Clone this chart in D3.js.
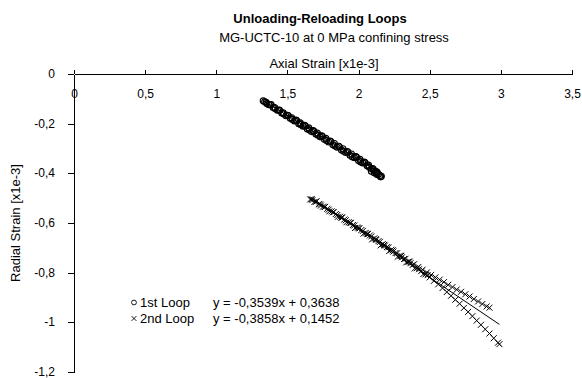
<!DOCTYPE html>
<html>
<head>
<meta charset="utf-8">
<script src="https://cdn.jsdelivr.net/npm/d3@7"></script>
<style>
  body { margin: 0; background: #fff; }
  svg text { font-family: "Liberation Sans", Arial, sans-serif; fill: #000; }
</style>
</head>
<body>
<svg id="chart" width="582" height="378"></svg>
<script>
"use strict";

// tick values
const xTicks = [0, 0.5, 1, 1.5, 2, 2.5, 3, 3.5];
const yTicks = [0, -0.2, -0.4, -0.6, -0.8, -1, -1.2];

// 1st loop (unloading, reloading, second pass)
const loop1X = [2.16, 2.13, 2.10, 2.07, 2.04, 2.01, 1.98, 1.95, 1.92, 1.89, 1.86, 1.83, 1.80, 1.77, 1.74,
  1.71, 1.68, 1.65, 1.62, 1.59, 1.56, 1.53, 1.50, 1.47, 1.44, 1.41, 1.38, 1.35, 1.33,
  1.34, 1.37, 1.40, 1.43, 1.46, 1.49, 1.52, 1.55, 1.58, 1.61, 1.64, 1.67, 1.70, 1.73, 1.76,
  1.79, 1.82, 1.85, 1.88, 1.91, 1.94, 1.97, 2.00, 2.03, 2.06, 2.09, 2.12, 2.14, 2.15,
  2.11, 2.13, 2.09,
  1.355, 1.385, 1.415, 1.445, 1.475, 1.505, 1.535, 1.565, 1.595, 1.625, 1.655, 1.685, 1.715, 1.745,
  1.775, 1.805, 1.835, 1.865, 1.895, 1.925, 1.955, 1.985, 2.015, 2.045, 2.075, 2.105, 2.125, 2.155];
const loop1Y = [-0.412, -0.395, -0.381, -0.367, -0.355, -0.344, -0.333, -0.322, -0.312, -0.301, -0.291, -0.280, -0.270, -0.259, -0.249,
  -0.238, -0.228, -0.217, -0.207, -0.197, -0.186, -0.176, -0.166, -0.156, -0.145, -0.135, -0.124, -0.114, -0.108,
  -0.112, -0.124, -0.135, -0.146, -0.157, -0.168, -0.178, -0.189, -0.200, -0.210, -0.221, -0.232, -0.242, -0.253, -0.263,
  -0.274, -0.285, -0.295, -0.306, -0.316, -0.327, -0.337, -0.348, -0.358, -0.369, -0.381, -0.392, -0.404, -0.409,
  -0.398, -0.405, -0.392,
  -0.119, -0.123, -0.140, -0.146, -0.161, -0.167, -0.183, -0.188, -0.204, -0.209, -0.226, -0.230, -0.247, -0.251,
  -0.268, -0.272, -0.290, -0.293, -0.311, -0.314, -0.333, -0.335, -0.354, -0.357, -0.376, -0.386, -0.399, -0.414];

// 2nd loop (reloading branch, unloading branch, second pass)
const loop2X = [1.66, 1.69, 1.72, 1.75, 1.78, 1.81, 1.84, 1.87, 1.90, 1.93, 1.96, 1.99, 2.02, 2.05, 2.08,
  2.11, 2.14, 2.17, 2.20, 2.23, 2.26, 2.29, 2.32, 2.35, 2.38, 2.41, 2.44, 2.47, 2.50, 2.53,
  2.56, 2.59, 2.62, 2.65, 2.68, 2.71, 2.74, 2.77, 2.80, 2.83, 2.86, 2.89, 2.92, 2.95, 2.98, 2.99,
  2.92, 2.90, 2.87, 2.84, 2.81, 2.78, 2.75, 2.72, 2.69, 2.66, 2.63, 2.60, 2.57, 2.54, 2.51,
  2.48, 2.45, 2.42, 2.39, 2.36, 2.33, 2.30, 2.27, 2.24, 2.21, 2.18, 2.15, 2.12, 2.09, 2.06,
  2.03, 2.00, 1.97, 1.94, 1.91, 1.88, 1.85, 1.82, 1.79, 1.76, 1.73, 1.70, 1.67,
  1.675, 1.705, 1.735, 1.765, 1.795, 1.825, 1.855, 1.885, 1.915, 1.945, 1.975, 2.005, 2.035, 2.065,
  2.095, 2.125, 2.155, 2.185, 2.215, 2.245, 2.275, 2.305, 2.335, 2.365, 2.395, 2.425, 2.455, 2.485];
const loop2Y = [-0.505, -0.515, -0.524, -0.534, -0.543, -0.553, -0.564, -0.575, -0.586, -0.597, -0.608, -0.618, -0.628, -0.640, -0.650,
  -0.662, -0.673, -0.685, -0.697, -0.708, -0.721, -0.732, -0.745, -0.756, -0.769, -0.782, -0.794, -0.807, -0.819, -0.833,
  -0.847, -0.862, -0.878, -0.893, -0.909, -0.925, -0.942, -0.958, -0.975, -0.993, -1.010, -1.028, -1.045, -1.064, -1.082, -1.088,
  -0.941, -0.936, -0.926, -0.916, -0.906, -0.896, -0.887, -0.877, -0.868, -0.858, -0.849, -0.838, -0.828, -0.819, -0.809,
  -0.799, -0.788, -0.777, -0.766, -0.755, -0.744, -0.732, -0.722, -0.710, -0.698, -0.688, -0.676, -0.665, -0.654, -0.643,
  -0.632, -0.620, -0.610, -0.599, -0.589, -0.578, -0.568, -0.557, -0.546, -0.536, -0.525, -0.515, -0.504,
  -0.508, -0.512, -0.530, -0.535, -0.553, -0.556, -0.575, -0.578, -0.597, -0.600, -0.620, -0.622, -0.643, -0.645,
  -0.666, -0.668, -0.690, -0.691, -0.713, -0.715, -0.736, -0.738, -0.759, -0.762, -0.783, -0.786, -0.806, -0.810];

// linear trendlines as printed in the legend
const seriesNames = ["1st Loop", "2nd Loop"];
const trendSlope = [-0.3539, -0.3858];
const trendIntercept = [0.3638, 0.1452];
const trendLabels = ["y = -0,3539x + 0,3638", "y = -0,3858x + 0,1452"];

const svg = d3.select("#chart");
const fmt = d => String(d).replace(".", ",");

const x = d3.scaleLinear().domain([0, 3.5]).range([74, 572]);
const y = d3.scaleLinear().domain([0, -1.2]).range([74, 372]);

// titles
svg.append("text").attr("x", 320).attr("y", 23).attr("text-anchor", "middle")
    .style("font-size", "13px").style("font-weight", "bold").text("Unloading-Reloading Loops");
svg.append("text").attr("x", 334).attr("y", 42).attr("text-anchor", "middle")
    .style("font-size", "13px").text("MG-UCTC-10 at 0 MPa confining stress");
svg.append("text").attr("x", 324).attr("y", 68).attr("text-anchor", "middle")
    .style("font-size", "13px").text("Axial Strain [x1e-3]");
svg.append("text").attr("transform", "translate(20,223) rotate(-90)").attr("text-anchor", "middle")
    .style("font-size", "13px").text("Radial Strain [x1e-3]");

// axes
const xAxis = svg.append("g").attr("transform", "translate(0," + y(0) + ")")
    .call(d3.axisBottom(x).tickValues(xTicks).tickFormat(fmt).tickSize(-4).tickSizeOuter(0).tickPadding(15));
const yAxis = svg.append("g").attr("transform", "translate(" + x(0) + ",0)")
    .call(d3.axisLeft(y).tickValues(yTicks).tickFormat(fmt).tickSize(6).tickSizeOuter(0).tickPadding(13));
[xAxis, yAxis].forEach(g => {
    g.selectAll("path, line").attr("stroke", "#000").attr("shape-rendering", "crispEdges");
    g.selectAll("text").style("font-size", "12px").attr("fill", "#000");
});
yAxis.selectAll("text").attr("dy", "0.3em");

const plot = svg.append("g");

// trendlines over each data range
[loop1X, loop2X].forEach((xs, i) => {
    const ext = d3.extent(xs);
    plot.append("line")
        .attr("x1", x(ext[0])).attr("y1", y(trendSlope[i] * ext[0] + trendIntercept[i]))
        .attr("x2", x(ext[1])).attr("y2", y(trendSlope[i] * ext[1] + trendIntercept[i]))
        .attr("stroke", "#000").attr("stroke-width", 1);
});

// circles
plot.selectAll("circle.p1").data(d3.range(loop1X.length)).enter().append("circle")
    .attr("class", "p1")
    .attr("cx", i => x(loop1X[i])).attr("cy", i => y(loop1Y[i])).attr("r", 3)
    .attr("fill", "none").attr("stroke", "#000").attr("stroke-width", 1.15);

// crosses
const cross = "M-3,-3L3,3M-3,3L3,-3";
plot.selectAll("path.p2").data(d3.range(loop2X.length)).enter().append("path")
    .attr("class", "p2")
    .attr("transform", i => "translate(" + x(loop2X[i]) + "," + y(loop2Y[i]) + ")")
    .attr("d", cross).attr("fill", "none").attr("stroke", "#000").attr("stroke-width", 1);

// legend
const legendY = [307, 323];
const lg = svg.append("g");
lg.append("circle").attr("cx", 134).attr("cy", legendY[0] - 4.5).attr("r", 2.4)
    .attr("fill", "none").attr("stroke", "#000").attr("stroke-width", 0.9);
lg.append("path").attr("transform", "translate(134," + (legendY[1] - 4.5) + ")")
    .attr("d", "M-2.4,-2.4L2.4,2.4M-2.4,2.4L2.4,-2.4").attr("stroke", "#000").attr("stroke-width", 0.9);
seriesNames.forEach((n, i) => {
    lg.append("text").attr("x", 140).attr("y", legendY[i]).style("font-size", "13px").text(n);
    lg.append("text").attr("x", 213).attr("y", legendY[i]).style("font-size", "13px").text(trendLabels[i]);
});
</script>
</body>
</html>
